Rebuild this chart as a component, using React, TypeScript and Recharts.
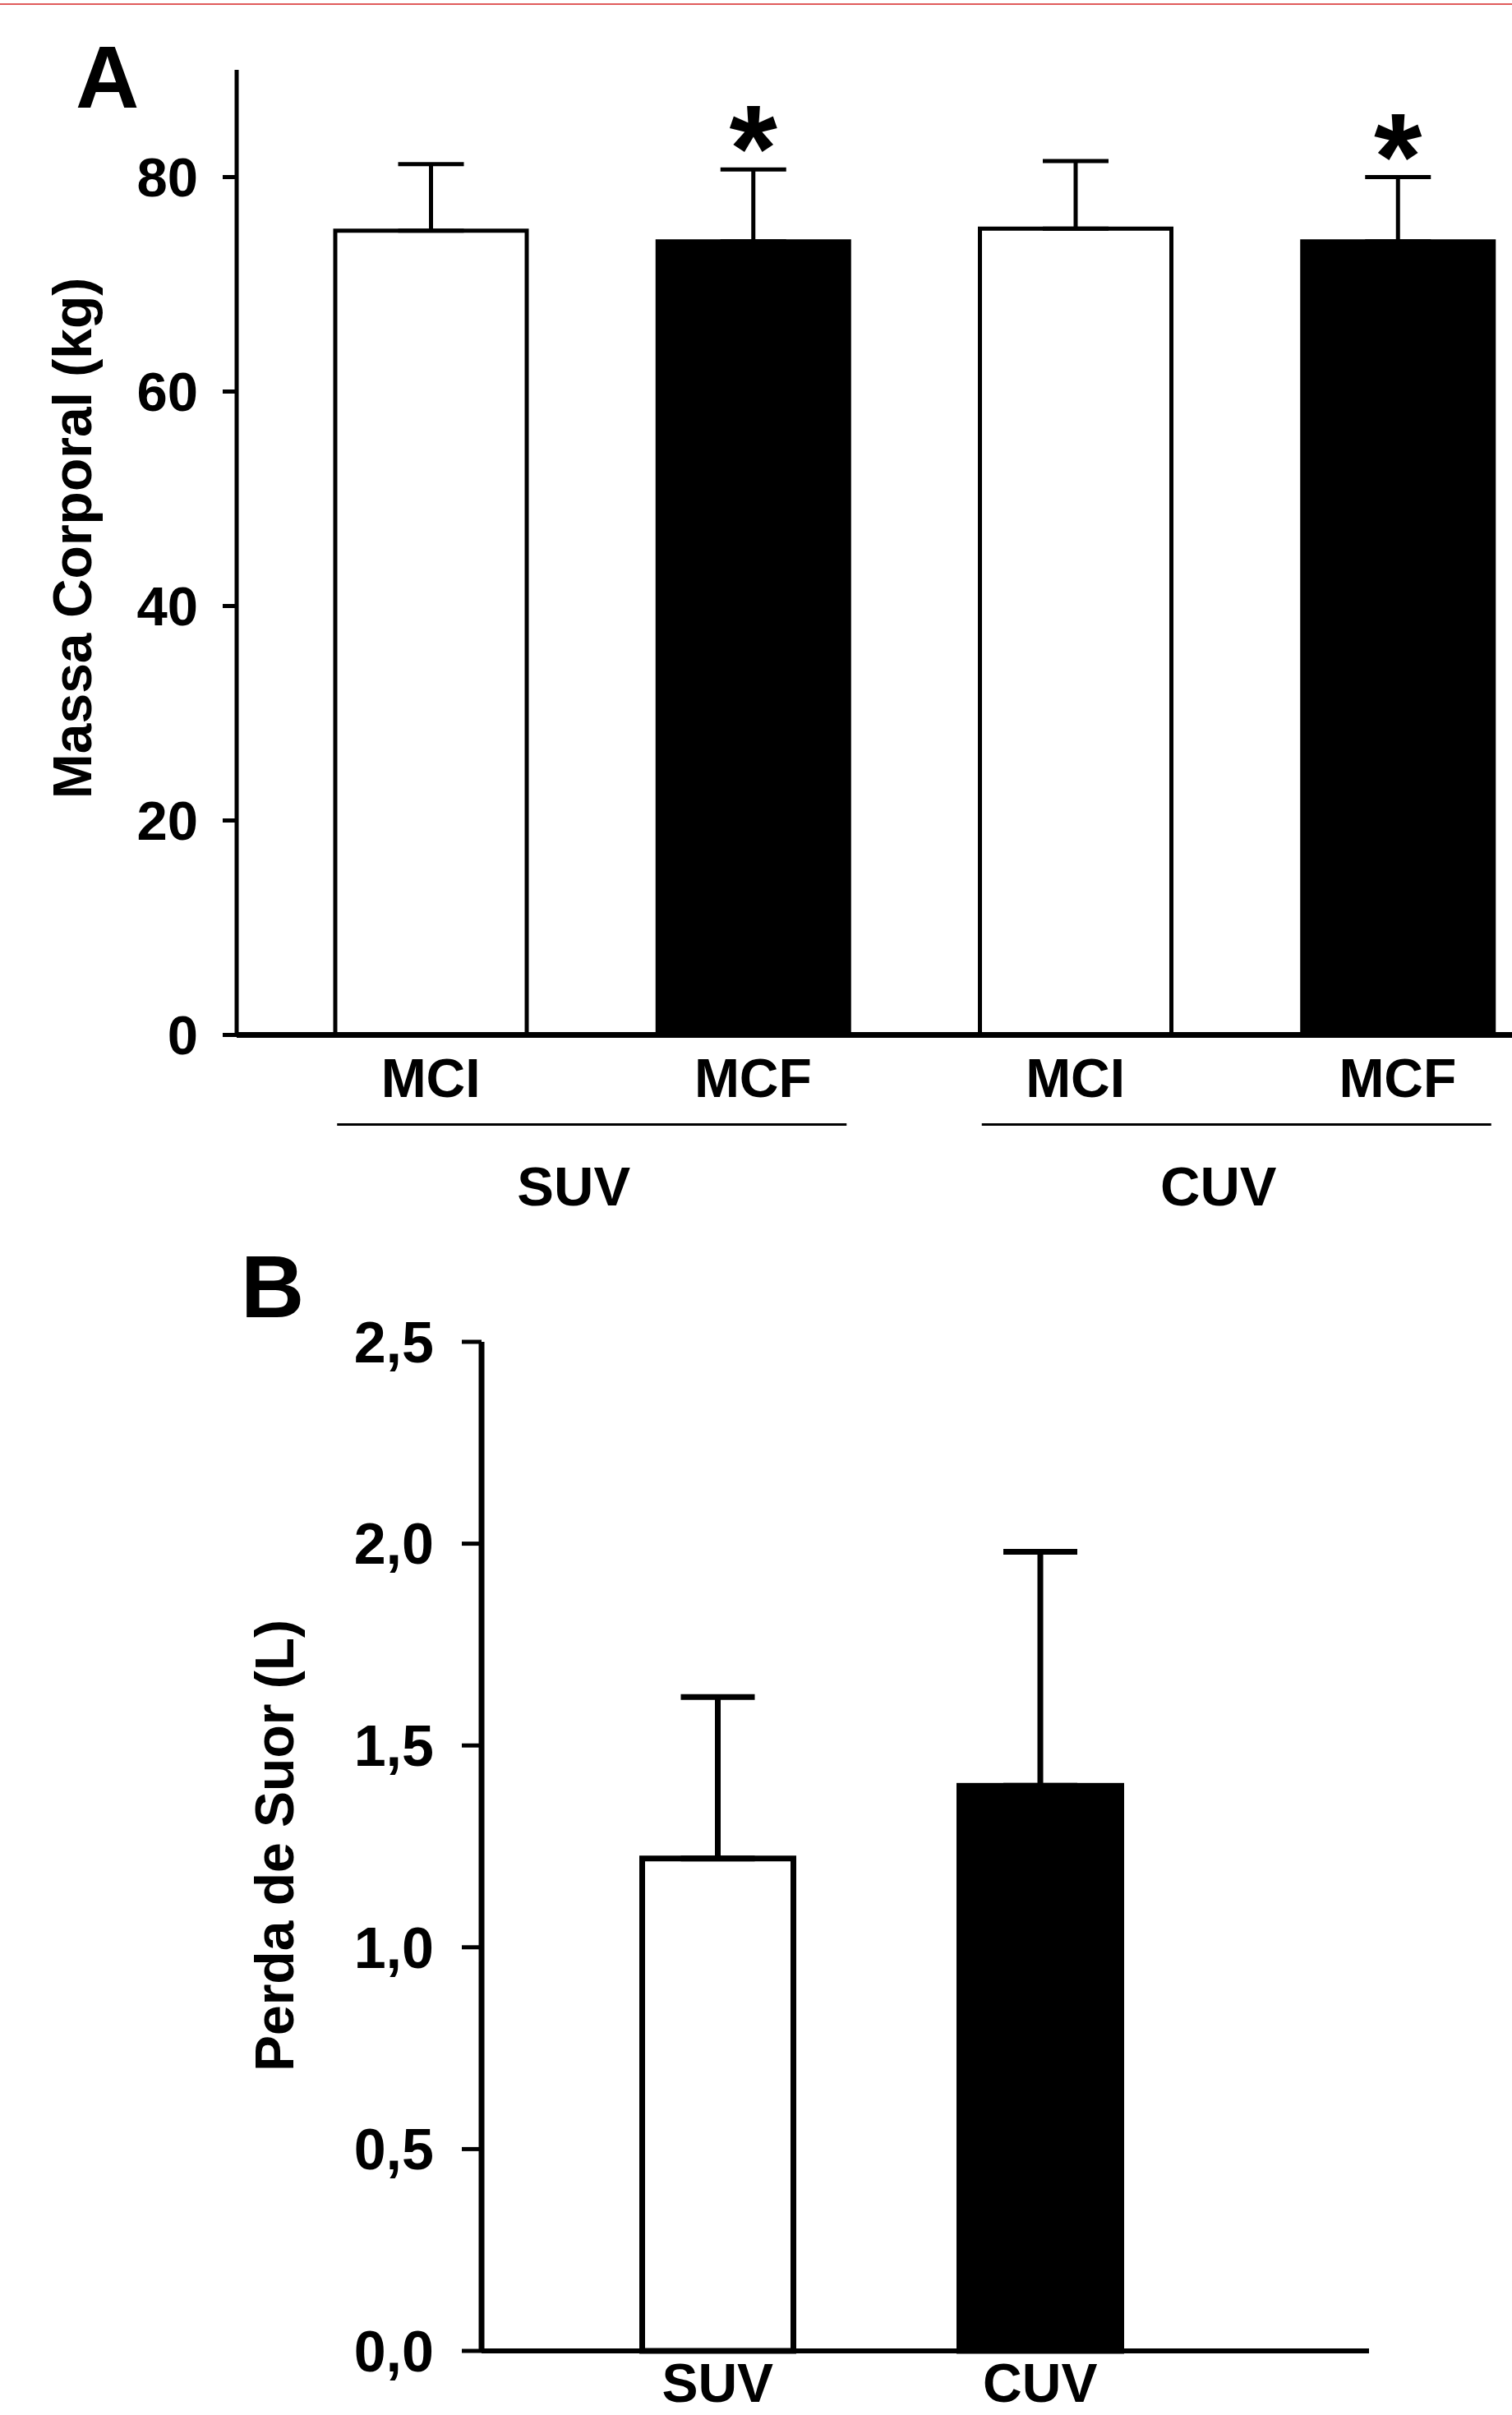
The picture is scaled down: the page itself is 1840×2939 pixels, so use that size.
import React from 'react';
import { BarChart, Bar, XAxis, YAxis, ErrorBar, LabelList, Cell } from 'recharts';

// ---------- data ----------
const categoriesA = ['MCI', 'MCF', 'MCI', 'MCF'];
const groupsA = ['SUV', 'SUV', 'CUV', 'CUV'];
const massA = [75.0, 74.0, 75.2, 74.0];
const massErrA = [6.2, 6.7, 6.3, 6.0];
const significantA = [false, true, false, true];
const ticksA = [0, 20, 40, 60, 80];

const categoriesB = ['SUV', 'CUV'];
const sweatB = [1.22, 1.4];
const sweatErrB = [0.4, 0.58];
const ticksB = [0, 0.5, 1.0, 1.5, 2.0, 2.5];

// ---------- styles ----------
const FONT = "'Liberation Sans', Arial, Helvetica, sans-serif";
const FILLS_A = ['#ffffff', '#000000', '#ffffff', '#000000'];
const FILLS_B = ['#ffffff', '#000000'];
const B_OUTER = [191, 204];
const B_STROKE = 7;

const dataA = categoriesA.map((c, i) => ({
  label: c,
  group: groupsA[i],
  value: massA[i],
  err: [0, massErrA[i]],
}));

const dataB = categoriesB.map((c, i) => ({
  label: c,
  value: sweatB[i],
  err: [0, sweatErrB[i]],
}));

const textStyle = { fill: '#000', fontFamily: FONT, fontWeight: 700 } as const;

const CatTick = (props: any) => {
  const { x, y, payload, baseline } = props;
  return (
    <text x={Number(x)} y={Number(y) + baseline} textAnchor="middle" fontSize={66} {...textStyle}>
      {payload.value}
    </text>
  );
};

const GroupTick = (props: any) => {
  const { x, y, payload } = props;
  const cx = Number(x);
  const yy = Number(y);
  return (
    <g>
      <line x1={cx - 310} x2={cx + 310} y1={yy + 9} y2={yy + 9} stroke="#000" strokeWidth={3} />
      <text x={cx - 22} y={yy + 107.5} textAnchor="middle" fontSize={67} {...textStyle}>
        {payload.value}
      </text>
    </g>
  );
};

const renderStar = (props: any) => {
  const { x, y, width, height, index, value } = props;
  if (!significantA[index]) return null;
  const px = Number(height) / Number(value);
  const capY = Number(y) - massErrA[index] * px;
  const fs = 150;
  return (
    <text
      key={`star-${index}`}
      x={Number(x) + Number(width) / 2}
      y={capY - 33 + 0.4 * fs}
      textAnchor="middle"
      fontSize={fs}
      {...textStyle}
    >
      *
    </text>
  );
};

const SweatBar = (p: any) => {
  const cx = Number(p.x) + Number(p.width) / 2;
  const w = B_OUTER[p.index] - B_STROKE;
  return (
    <rect
      x={cx - w / 2}
      y={Number(p.y)}
      width={w}
      height={Number(p.height)}
      fill={FILLS_B[p.index]}
      stroke="#000"
      strokeWidth={B_STROKE}
    />
  );
};

const fmtB = (v: number) => v.toFixed(1).replace('.', ',');

export default function App() {
  return (
    <div
      style={{
        position: 'absolute',
        left: 0,
        top: 0,
        width: 1840,
        height: 2939,
        overflow: 'hidden',
        background: '#fff',
      }}
    >
      <div style={{ position: 'absolute', left: 0, top: 0 }}>
        <BarChart
          width={1897}
          height={1490}
          data={dataA}
          margin={{ top: 85, right: 0, bottom: 0, left: 0 }}
          barCategoryGap={0}
        >
          <XAxis
            dataKey="label"
            height={100}
            interval={0}
            tickLine={false}
            tickSize={0}
            tickMargin={0}
            axisLine={{ stroke: '#000', strokeWidth: 7 }}
            padding={{ left: 40, right: 0 }}
            tick={(p: any) => <CatTick {...p} baseline={75} />}
          />
          <XAxis
            xAxisId="grp"
            dataKey="group"
            allowDuplicatedCategory={false}
            height={130.5}
            interval={0}
            tickLine={false}
            tickSize={0}
            tickMargin={0}
            axisLine={false}
            padding={{ left: 40, right: 0 }}
            tick={(p: any) => <GroupTick {...p} />}
          />
          <YAxis
            domain={[0, 90]}
            ticks={ticksA}
            width={288}
            interval={0}
            tickSize={17}
            tickMargin={30}
            axisLine={{ stroke: '#000', strokeWidth: 5 }}
            tickLine={{ stroke: '#000', strokeWidth: 5 }}
            tick={{ ...textStyle, fontSize: 67 }}
          />
          <Bar dataKey="value" barSize={233} stroke="#000" strokeWidth={5} isAnimationActive={false}>
            {dataA.map((d, i) => (
              <Cell key={i} fill={FILLS_A[i]} />
            ))}
            <ErrorBar dataKey="err" width={40} stroke="#000" strokeWidth={5} direction="y" />
            <LabelList dataKey="value" content={renderStar} />
          </Bar>
        </BarChart>
      </div>

      <div style={{ position: 'absolute', left: 0, top: 1490 }}>
        <BarChart
          width={1700}
          height={1449}
          data={dataB}
          margin={{ top: 143, right: 34, bottom: 0, left: 0 }}
          barCategoryGap={0}
        >
          <XAxis
            dataKey="label"
            height={78}
            interval={0}
            tickLine={false}
            tickSize={0}
            tickMargin={0}
            axisLine={{ stroke: '#000', strokeWidth: 6 }}
            padding={{ left: 91, right: 204 }}
            tick={(p: any) => <CatTick {...p} baseline={62} />}
          />
          <YAxis
            domain={[0, 2.5]}
            ticks={ticksB}
            width={586}
            interval={0}
            tickSize={24}
            tickMargin={34}
            tickFormatter={fmtB}
            axisLine={{ stroke: '#000', strokeWidth: 7 }}
            tickLine={{ stroke: '#000', strokeWidth: 5 }}
            tick={{ ...textStyle, fontSize: 70 }}
          />
          <Bar dataKey="value" barSize={197} shape={SweatBar} isAnimationActive={false}>
            <ErrorBar dataKey="err" width={45} stroke="#000" strokeWidth={7} direction="y" />
          </Bar>
        </BarChart>
      </div>

      <svg
        width={1840}
        height={2939}
        style={{ position: 'absolute', left: 0, top: 0, pointerEvents: 'none' }}
      >
        <rect x={0} y={4} width={1840} height={2} fill="#e05c5c" />
        <text x={92} y={131} fontSize={107} {...textStyle}>
          A
        </text>
        <text x={293} y={1603} fontSize={107} {...textStyle}>
          B
        </text>
        <text
          x={111}
          y={655}
          fontSize={66}
          textAnchor="middle"
          transform="rotate(-90 111 655)"
          {...textStyle}
        >
          Massa Corporal (kg)
        </text>
        <text
          x={357}
          y={2246}
          fontSize={66}
          textAnchor="middle"
          transform="rotate(-90 357 2246)"
          {...textStyle}
        >
          Perda de Suor (L)
        </text>
      </svg>
    </div>
  );
}
